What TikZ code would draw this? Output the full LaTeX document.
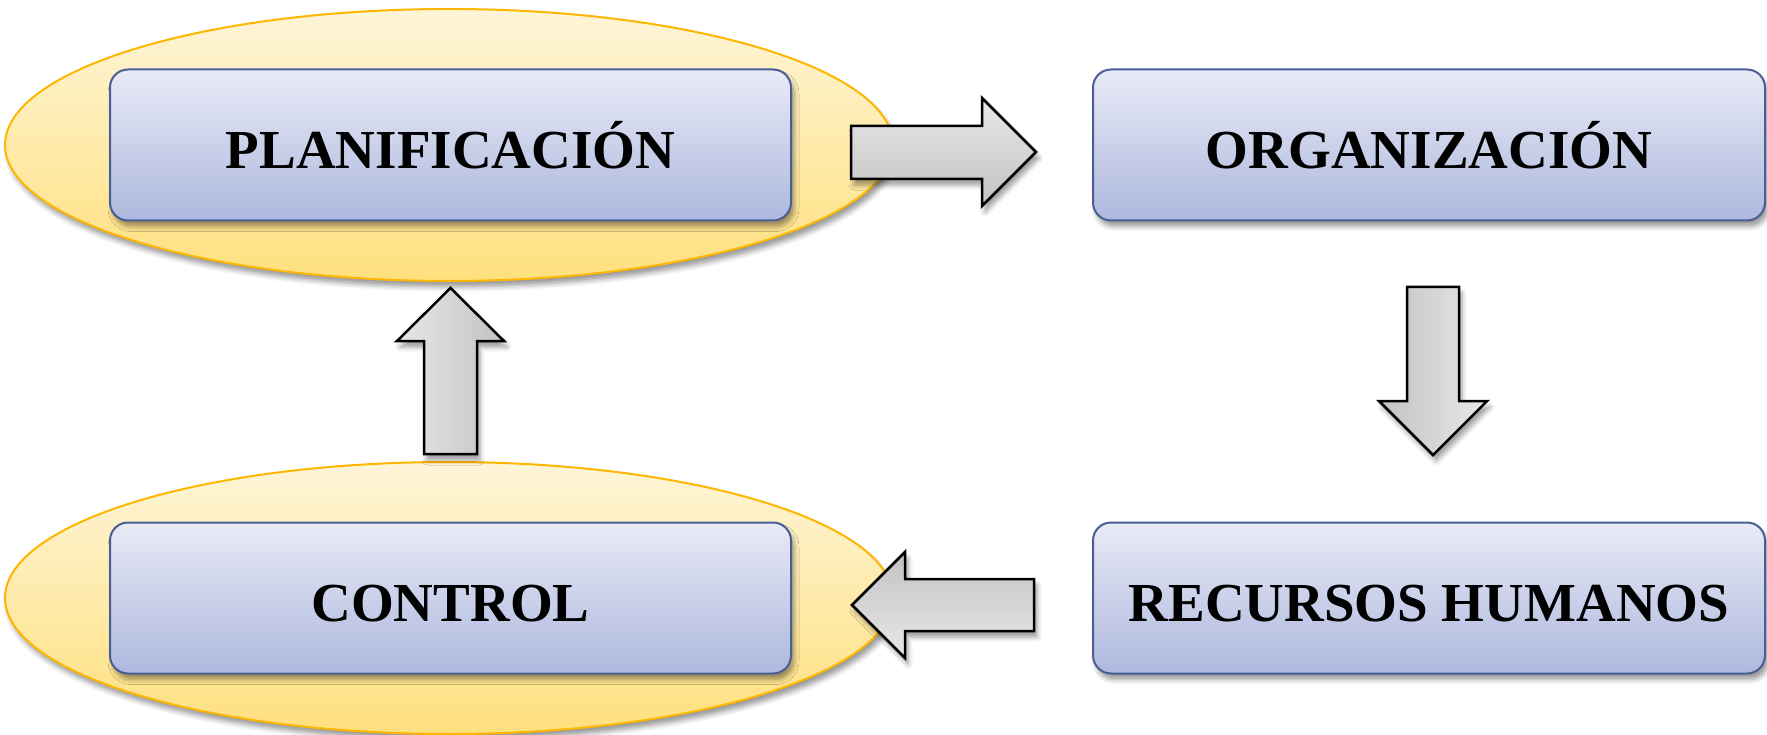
\documentclass[tikz,border=0pt]{standalone}
\usepackage{fontspec}
\setmainfont{Liberation Serif}
\usetikzlibrary{shapes.geometric,shadows.blur}
\definecolor{ellTop}{HTML}{FEF5D8}
\definecolor{ellBot}{HTML}{FFE07E}
\definecolor{ellLine}{HTML}{FFB600}
\definecolor{boxTop}{HTML}{E8EAF6}
\definecolor{boxBot}{HTML}{AEB8DE}
\definecolor{boxLine}{HTML}{4A5E96}
\definecolor{arrLight}{HTML}{E8E8E8}
\definecolor{arrDark}{HTML}{C2C2C2}
\begin{document}
\begin{tikzpicture}[x=1pt,y=-1pt,
  softshadow/.style={blur shadow={shadow xshift=3pt, shadow yshift=-6pt, shadow blur radius=5pt, shadow opacity=40}},
  halo/.style={ellipse, draw=ellLine, line width=2pt, top color=ellTop, bottom color=ellBot,
    minimum width=888pt, minimum height=272pt, inner sep=0pt, softshadow},
  stagebox/.style={draw=boxLine, line width=2pt, rounded corners=18pt, top color=boxTop, bottom color=boxBot,
    minimum height=151pt, inner sep=0pt, text height=47pt, text depth=0pt,
    font=\fontsize{55}{66}\selectfont\bfseries, softshadow},
  blockarrow/.style={draw=black, line width=2.5pt, line join=miter, softshadow}
]
\useasboundingbox (0,0) rectangle (1767,735);

% halos
\node[halo] (haloP) at (449,145) {};
\node[halo] (haloC) at (449,598) {};

% boxes
\node[stagebox, minimum width=681pt] (plan) at (450.5,145) {PLANIFICACIÓN};
\node[stagebox, minimum width=672pt] (org) at (1429,145) {ORGANIZACIÓN};
\node[stagebox, minimum width=672pt] (rrhh) at (1429,598) {RECURSOS HUMANOS};
\node[stagebox, minimum width=681pt] (ctrl) at (450.5,598) {CONTROL};

% block arrows
\draw[blockarrow, top color=arrLight, bottom color=arrDark]
  (851,126) -- (982,126) -- (982,98) -- (1036,152) -- (982,206) -- (982,179) -- (851,179) -- cycle;
\draw[blockarrow, left color=arrDark, right color=arrLight]
  (1407,287) -- (1459,287) -- (1459,401) -- (1487,401) -- (1433,455) -- (1379,401) -- (1407,401) -- cycle;
\draw[blockarrow, top color=arrDark, bottom color=arrLight]
  (1034,579) -- (905,579) -- (905,552) -- (852,605) -- (905,658) -- (905,631) -- (1034,631) -- cycle;
\draw[blockarrow, left color=arrLight, right color=arrDark]
  (424,454) -- (424,341) -- (397,341) -- (450.5,288) -- (504,341) -- (477,341) -- (477,454) -- cycle;
\end{tikzpicture}
\end{document}
